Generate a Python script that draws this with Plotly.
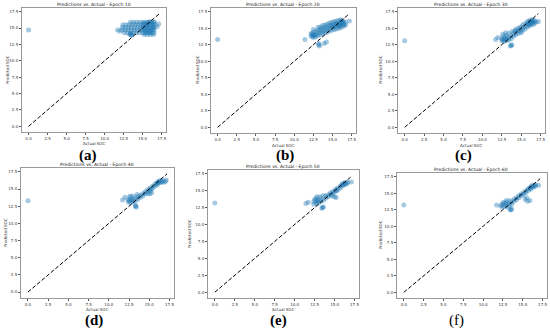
import plotly.graph_objects as go

W, H = 550, 331

epochs = [10, 20, 30, 40, 50, 60]
panel_labels = ["(a)", "(b)", "(c)", "(d)", "(e)", "(f)"]
tick_vals = [0.0, 2.5, 5.0, 7.5, 10.0, 12.5, 15.0, 17.5]
tick_text = ["0.0", "2.5", "5.0", "7.5", "10.0", "12.5", "15.0", "17.5"]
diag_line = [0.0, 17.2]

# (actual SOC, predicted SOC) pairs
epoch10_points = [
    (0.0, 14.7), (11.7, 14.7), (12.0, 14.5), (17.1, 15.6), (16.9, 15.2),
    (13.4, 15.9), (13.8, 15.9), (14.2, 15.9), (14.6, 15.9), (15.0, 15.9), (15.3, 15.9), (15.6, 15.9), (15.9, 15.9), (16.2, 15.9), (16.5, 15.9),
    (12.4, 15.5), (12.8, 15.5), (13.2, 15.5), (13.6, 15.5), (14.0, 15.5), (14.4, 15.5), (14.8, 15.5), (15.1, 15.5), (15.4, 15.5), (15.7, 15.5), (16.0, 15.5), (16.3, 15.5), (16.6, 15.5),
    (12.3, 15.1), (12.7, 15.1), (13.1, 15.1), (13.5, 15.1), (13.9, 15.1), (14.3, 15.1), (14.7, 15.1), (15.0, 15.1), (15.3, 15.1), (15.6, 15.1), (15.9, 15.1), (16.2, 15.1), (16.5, 15.1),
    (12.3, 14.7), (12.7, 14.7), (13.1, 14.7), (13.5, 14.7), (13.9, 14.7), (14.3, 14.7), (14.7, 14.7), (15.0, 14.7), (15.3, 14.7), (15.6, 14.7), (15.9, 14.7), (16.2, 14.7), (16.5, 14.7),
    (12.6, 14.3), (13.0, 14.3), (13.4, 14.3), (13.8, 14.3), (14.2, 14.3), (14.6, 14.3), (15.0, 14.3), (15.3, 14.3), (15.6, 14.3), (15.9, 14.3), (16.2, 14.3), (16.5, 14.3),
    (13.3, 14.0), (13.6, 14.0), (15.2, 14.0), (15.6, 14.0), (16.0, 14.0), (16.4, 14.0),
    (15.2, 15.7), (15.5, 15.3), (15.8, 14.9), (16.1, 15.6), (16.4, 15.2), (15.4, 14.5), (15.9, 14.4), (16.3, 14.8),
    (15.7, 15.8), (16.0, 16.0), (15.1, 14.9), (16.5, 15.9), (13.5, 13.9), (13.4, 14.1),
]

epoch20_points = [
    (0.0, 13.3), (11.4, 13.3), (17.2, 16.1), (13.9, 12.7), (14.2, 12.9),
    (13.2, 12.5), (13.3, 12.3), (13.2, 12.7),
    (12.2, 13.8), (12.2, 14.2),
    (12.5, 13.6), (12.5, 14.0), (12.5, 14.4), (12.5, 14.8),
    (12.8, 13.7), (12.8, 14.1), (12.8, 14.5),
    (13.1, 13.9), (13.1, 14.3), (13.1, 14.7), (13.1, 15.1),
    (13.4, 14.0), (13.4, 14.4), (13.4, 14.8), (13.4, 15.2),
    (13.7, 14.2), (13.7, 14.6), (13.7, 15.0), (13.7, 15.4),
    (14.0, 14.3), (14.0, 14.7), (14.0, 15.1), (14.0, 15.5),
    (14.3, 14.4), (14.3, 14.8), (14.3, 15.2), (14.3, 15.6),
    (14.6, 14.6), (14.6, 15.0), (14.6, 15.4), (14.6, 15.8),
    (14.9, 14.7), (14.9, 15.1), (14.9, 15.5), (14.9, 15.9),
    (15.2, 14.8), (15.2, 15.2), (15.2, 15.6), (15.2, 16.0),
    (15.5, 14.9), (15.5, 15.3), (15.5, 15.7), (15.5, 16.1),
    (15.8, 15.0), (15.8, 15.4), (15.8, 15.8), (15.8, 16.2),
    (16.1, 15.1), (16.1, 15.5), (16.1, 15.9), (16.1, 16.3),
    (16.4, 15.3), (16.4, 15.7), (16.4, 16.1),
    (16.7, 15.5), (16.7, 15.9),
    (15.4, 15.5), (15.7, 15.6), (16.0, 15.7), (16.3, 15.9), (15.9, 15.3), (16.2, 16.1), (15.0, 15.3), (16.5, 15.5),
    (12.4, 13.8), (12.7, 13.9), (12.3, 14.1),
]

epoch30_points = [
    (0.0, 13.1), (11.7, 13.3), (17.2, 16.0), (12.0, 13.6),
    (13.7, 12.4), (13.6, 12.3), (13.8, 12.5),
    (12.5, 13.1), (12.5, 13.5), (12.8, 13.0), (12.8, 13.4), (12.8, 13.8), (13.1, 13.1), (13.1, 13.5), (13.1, 13.9),
    (13.4, 13.2), (13.4, 13.6), (13.7, 13.4), (13.7, 13.8), (12.6, 13.3), (13.0, 13.3),
    (12.6, 14.1), (13.0, 14.3), (13.4, 14.2), (13.8, 14.5), (14.2, 14.6),
    (14.0, 13.8), (14.0, 14.2),
    (14.3, 14.0), (14.3, 14.4), (14.3, 14.8),
    (14.6, 14.2), (14.6, 14.6), (14.6, 15.0),
    (14.9, 14.5), (14.9, 14.9), (14.9, 15.2),
    (15.2, 14.7), (15.2, 15.1), (15.2, 15.5),
    (15.5, 14.9), (15.5, 15.3), (15.5, 15.7),
    (15.8, 15.2), (15.8, 15.6), (15.8, 16.0),
    (16.1, 15.4), (16.1, 15.8), (16.1, 16.2),
    (16.4, 15.6), (16.4, 16.0), (16.4, 16.3),
    (16.7, 15.9), (16.7, 16.2),
    (15.9, 15.8), (16.2, 16.0), (16.5, 16.1), (16.0, 15.5), (16.3, 15.7),
    (15.0, 14.3), (16.6, 15.6), (16.9, 15.9),
]

epoch40_points = [
    (0.0, 13.3), (11.7, 13.4), (17.1, 16.3), (12.0, 13.8),
    (13.3, 12.5), (13.4, 12.4), (13.3, 12.6),
    (12.4, 13.1), (12.4, 13.5), (12.7, 13.0), (12.7, 13.4), (12.7, 13.8), (13.0, 13.1), (13.0, 13.5),
    (13.3, 13.3), (13.3, 13.7), (13.6, 13.5), (12.5, 13.3), (12.9, 13.3), (13.6, 13.9),
    (12.6, 14.0), (13.0, 14.0), (13.5, 14.2),
    (13.9, 13.8), (13.9, 14.1), (14.2, 14.0), (14.2, 14.3), (14.5, 14.3), (14.5, 14.6),
    (14.8, 14.6), (14.8, 14.9), (15.1, 14.8), (15.1, 15.1), (15.4, 15.1), (15.4, 15.4),
    (15.7, 15.4), (15.7, 15.7), (16.0, 15.6), (16.0, 15.9), (16.3, 15.9), (16.3, 16.2),
    (16.6, 16.1), (16.6, 16.3),
    (16.1, 16.1), (16.4, 16.0), (15.9, 15.8), (15.2, 15.0),
    (14.8, 14.3), (15.1, 14.3), (15.3, 14.5), (16.8, 16.0), (17.0, 16.1),
]

epoch50_points = [
    (0.0, 13.2), (11.4, 13.1), (11.7, 13.3), (17.1, 16.3),
    (13.5, 12.5), (13.4, 12.4), (13.6, 12.6),
    (12.4, 13.0), (12.4, 13.4), (12.7, 13.1), (12.7, 13.5), (12.7, 13.9), (13.0, 13.2), (13.0, 13.6),
    (13.3, 13.4), (13.3, 13.8), (13.6, 13.6), (12.5, 13.7), (12.9, 13.4),
    (12.8, 14.1), (13.2, 14.1), (13.6, 14.3),
    (13.9, 13.9), (13.9, 14.2), (14.2, 14.1), (14.2, 14.4), (14.5, 14.4), (14.5, 14.7),
    (14.8, 14.6), (14.8, 14.9), (15.1, 14.9), (15.1, 15.2), (15.4, 15.1), (15.4, 15.4),
    (15.7, 15.4), (15.7, 15.7), (16.0, 15.7), (16.0, 16.0), (16.3, 15.9), (16.3, 16.2),
    (16.6, 16.1), (16.6, 16.3),
    (16.1, 16.1), (16.4, 16.0), (15.9, 15.8), (15.2, 15.0),
    (14.7, 14.2), (15.2, 14.0), (15.0, 14.1),
]

epoch60_points = [
    (0.0, 13.2), (11.7, 13.2), (17.0, 16.2),
    (13.5, 12.5), (13.6, 12.6), (13.4, 12.5),
    (12.4, 12.9), (12.4, 13.3), (12.7, 13.0), (12.7, 13.4), (13.0, 12.9), (13.0, 13.3),
    (13.3, 13.1), (13.3, 13.5), (13.6, 13.3), (12.5, 13.6), (12.9, 13.6), (13.6, 13.7),
    (12.2, 13.1), (12.9, 13.9), (13.3, 13.9),
    (13.9, 13.8), (13.9, 14.1), (14.2, 14.0), (14.2, 14.3), (14.5, 14.3), (14.5, 14.6),
    (14.8, 14.6), (14.8, 14.9), (15.1, 14.8), (15.1, 15.1), (15.4, 15.1), (15.4, 15.4),
    (15.7, 15.4), (15.7, 15.7), (16.0, 15.6), (16.0, 15.9), (16.3, 15.9), (16.3, 16.2),
    (16.6, 16.1), (16.6, 16.3),
    (16.1, 16.1), (16.4, 16.0), (15.9, 15.8),
    (15.3, 14.1), (15.6, 13.8), (15.9, 13.9), (15.5, 14.3),
]

all_points = [epoch10_points, epoch20_points, epoch30_points,
              epoch40_points, epoch50_points, epoch60_points]

# panel frames in pixels: (left, right, top, bottom)
frames = [
    (22, 166, 8, 132), (211, 356, 8, 133), (398, 545, 8, 133),
    (21, 174, 168, 298), (208, 359, 170, 298), (397, 547, 173, 298),
]
# positions of texts in pixels
title_pos = [(94, 5), (283, 5), (471, 5), (97, 164), (283, 166), (471, 169)]
xlab_pos = [(94, 144), (283, 145), (471, 145), (97, 309), (283, 309), None]
ylab_pos = [(7, 70), (197, 70), (380, 70), (5, 233), (189, 234), (380, 235)]
panel_pos = [(88, 155), (285, 155), (463, 155), (94, 320), (278, 320), (456, 320)]
label_bold = [True, True, True, True, True, False]

fx = lambda p: p / W
fy = lambda p: 1 - p / H

fig = go.Figure()
ann = []
rng = [-0.86, 18.06]
for i, pts in enumerate(all_points):
    n = "" if i == 0 else str(i + 1)
    xs = [p[0] for p in pts]
    ys = [p[1] for p in pts]
    fig.add_trace(go.Scatter(
        x=xs, y=ys, mode="markers", xaxis="x" + n, yaxis="y" + n,
        marker=dict(color="#1f77b4", size=5, opacity=0.4, line=dict(width=0)),
        showlegend=False, hoverinfo="skip"))
    fig.add_trace(go.Scatter(
        x=diag_line, y=diag_line, mode="lines", xaxis="x" + n, yaxis="y" + n,
        line=dict(color="black", width=1, dash="4px,2px"),
        showlegend=False, hoverinfo="skip"))
    l, r, t, b = frames[i]
    axcommon = dict(range=rng, autorange=False, automargin=False,
                    showgrid=False, zeroline=False, showline=True,
                    mirror=True, linecolor="#9a9a9a", linewidth=1,
                    ticks="outside", ticklen=2, tickwidth=0.6, tickcolor="#555",
                    tickvals=tick_vals, ticktext=tick_text,
                    tickfont=dict(family="DejaVu Sans", size=4, color="#333"))
    fig.update_layout(**{
        "xaxis" + n: dict(domain=[fx(l), fx(r)], anchor="y" + n, **axcommon),
        "yaxis" + n: dict(domain=[fy(b), fy(t)], anchor="x" + n, **axcommon),
    })
    tx, ty = title_pos[i]
    ann.append(dict(x=fx(tx), y=fy(ty), xref="paper", yref="paper", showarrow=False,
                    xanchor="center", yanchor="middle",
                    text=f"Predictions vs. Actual - Epoch {epochs[i]}",
                    font=dict(family="DejaVu Sans", size=4.5, color="#222")))
    if xlab_pos[i]:
        ax_, ay_ = xlab_pos[i]
        ann.append(dict(x=fx(ax_), y=fy(ay_), xref="paper", yref="paper", showarrow=False,
                        xanchor="center", yanchor="middle",
                        text="Actual SOC",
                        font=dict(family="DejaVu Sans", size=4, color="#333")))
    yx, yy = ylab_pos[i]
    ann.append(dict(x=fx(yx), y=fy(yy), xref="paper", yref="paper", showarrow=False,
                    xanchor="center", yanchor="middle",
                    text="Predicted SOC", textangle=-90,
                    font=dict(family="DejaVu Sans", size=4, color="#333")))
    px_, py_ = panel_pos[i]
    lab = f"<b>{panel_labels[i]}</b>" if label_bold[i] else panel_labels[i]
    ann.append(dict(x=fx(px_), y=fy(py_), xref="paper", yref="paper", showarrow=False,
                    xanchor="center", yanchor="middle", text=lab,
                    font=dict(family="Liberation Serif", size=15, color="black")))

fig.update_layout(width=W, height=H, margin=dict(l=0, r=0, t=0, b=0),
                  paper_bgcolor="white", plot_bgcolor="white", annotations=ann)
fig.write_html("out.html", config={"displayModeBar": False},
               post_script="document.body.style.margin='0';document.body.style.overflow='hidden';")
